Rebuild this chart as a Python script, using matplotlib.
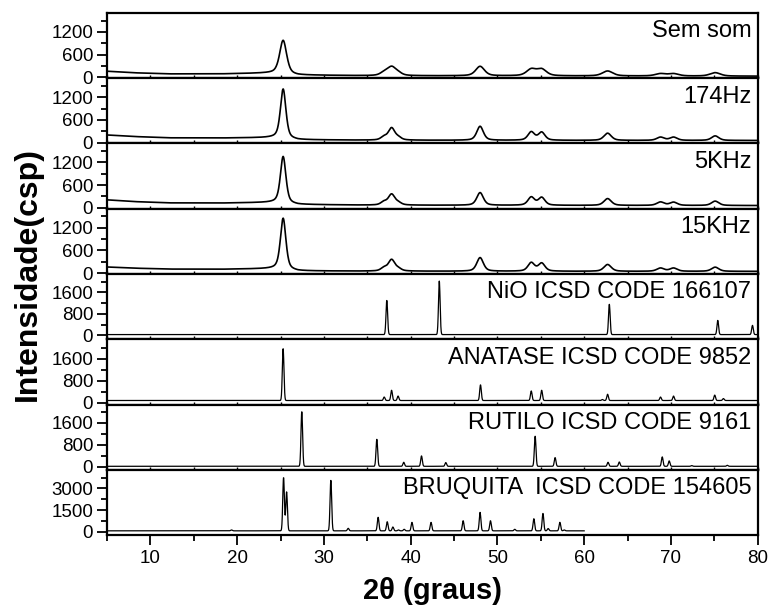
import matplotlib
matplotlib.use("Agg")
import matplotlib.pyplot as plt
import numpy as np
from matplotlib.ticker import MultipleLocator

plt.rcParams['font.family'] = ['Liberation Sans', 'DejaVu Sans']

# ---- data ----
# experimental patterns: background anchors (2theta, counts) and peak list
bg_x = [5, 8, 12, 18, 23, 24.5, 27, 35, 50, 65, 80]
bg_semsom = [160, 120, 90, 90, 110, 115, 60, 42, 38, 35, 30]
bg_174 = [200, 160, 125, 120, 130, 135, 75, 62, 58, 56, 55]
bg_5k = [210, 165, 130, 125, 140, 145, 88, 70, 65, 62, 60]
bg_15k = [160, 130, 105, 100, 115, 120, 58, 50, 47, 45, 45]

exp_pos = [25.3, 36.9, 37.8, 38.6, 48.0, 53.9, 55.1, 62.7, 68.8, 70.3, 75.1]
semsom_h = [880, 70, 230, 50, 250, 170, 170, 130, 60, 60, 90]
hz174_h = [1300, 80, 320, 60, 370, 220, 210, 190, 85, 85, 120]
khz5_h = [1230, 80, 285, 55, 335, 215, 205, 180, 90, 85, 115]
khz15_h = [1350, 80, 300, 55, 360, 225, 210, 180, 85, 85, 110]
semsom_w = [0.95, 1.0, 1.2, 1.0, 1.2, 1.3, 1.3, 1.4, 1.4, 1.4, 1.4]
exp_w = [0.75, 0.8, 0.9, 0.8, 0.9, 0.9, 0.9, 1.0, 1.0, 1.0, 1.0]

# reference patterns (ICSD): baseline, peak positions and heights
nio_base = 25
nio_pos = [37.25, 43.3, 62.9, 75.4, 79.4]
nio_h = [1280, 2000, 1130, 530, 345]

ana_base = 85
ana_pos = [25.3, 36.95, 37.8, 38.55, 48.05, 53.9, 55.1, 62.1, 62.7, 68.8, 70.3, 75.05, 76.05]
ana_h = [1870, 125, 370, 160, 565, 345, 370, 35, 225, 125, 160, 195, 70]

rut_base = 25
rut_pos = [27.45, 36.1, 39.2, 41.25, 44.05, 54.35, 56.65, 62.75, 64.05, 69.0, 69.8, 72.4, 76.5]
rut_h = [1980, 975, 145, 375, 135, 1090, 315, 145, 155, 340, 195, 25, 35]

bro_base = 60
bro_pos = [19.35, 25.35, 25.7, 30.8, 32.8, 36.25, 37.3, 37.95, 38.6, 39.25, 40.15,
           42.35, 46.05, 48.0, 49.2, 52.0, 54.2, 55.25, 55.85, 57.2, 57.7]
bro_h = [60, 3700, 2700, 3500, 175, 940, 630, 265, 60, 105, 590,
         590, 700, 1280, 700, 105, 840, 1210, 160, 590, 60]

labels = ["Sem som", "174Hz", "5KHz", "15KHz", "NiO ICSD CODE 166107",
          "ANATASE ICSD CODE 9852", "RUTILO ICSD CODE 9161",
          "BRUQUITA  ICSD CODE 154605"]
ylims = [(-25, 1700), (-25, 1700), (-25, 1700), (-25, 1700),
         (-150, 2290), (-60, 2300), (-100, 2260), (-230, 4300)]
ymajor = [600, 600, 600, 600, 800, 800, 800, 1500]
ymax_tick = [1200, 1200, 1200, 1200, 1600, 1600, 1600, 3000]


def exp_curve(x, bg, pos, h, w):
    y = np.interp(x, bg_x, bg)
    for p, a, fw in zip(pos, h, w):
        g = fw / 2
        lor = 1 / (1 + ((x - p) / g) ** 2)
        gau = np.exp(-np.log(2) * ((x - p) / g) ** 2)
        y = y + a * (0.5 * lor + 0.5 * gau)
    return y


def ref_curve(x, base, pos, h, fw=0.22):
    y = np.full_like(x, float(base))
    s = fw / 2.355
    for p, a in zip(pos, h):
        y = y + a * np.exp(-0.5 * ((x - p) / s) ** 2)
    return y


x = np.arange(5, 80.001, 0.02)
xb = np.arange(5, 60.001, 0.02)
curves = [
    (x, exp_curve(x, bg_semsom, exp_pos, semsom_h, semsom_w)),
    (x, exp_curve(x, bg_174, exp_pos, hz174_h, exp_w)),
    (x, exp_curve(x, bg_5k, exp_pos, khz5_h, exp_w)),
    (x, exp_curve(x, bg_15k, exp_pos, khz15_h, exp_w)),
    (x, ref_curve(x, nio_base, nio_pos, nio_h)),
    (x, ref_curve(x, ana_base, ana_pos, ana_h)),
    (x, ref_curve(x, rut_base, rut_pos, rut_h)),
    (xb, ref_curve(xb, bro_base, bro_pos, bro_h)),
]

fig = plt.figure(figsize=(7.7, 6.07), dpi=100)
gs = fig.add_gridspec(8, 1, left=0.139, right=0.984, top=0.9786, bottom=0.1186, hspace=0)
axes = [fig.add_subplot(gs[i]) for i in range(8)]

for i, ax in enumerate(axes):
    cx, cy = curves[i]
    lw = 1.2 if i < 4 else 0.9
    ax.plot(cx, cy, color='black', lw=lw)
    ax.set_xlim(5, 80)
    ax.set_ylim(*ylims[i])
    ax.set_yticks(np.arange(0, ymax_tick[i] + 1, ymajor[i]))
    ax.yaxis.set_minor_locator(MultipleLocator(ymajor[i] / 2))
    ax.xaxis.set_major_locator(MultipleLocator(10))
    ax.xaxis.set_minor_locator(MultipleLocator(5))
    for sp in ax.spines.values():
        sp.set_linewidth(1.6)
    ax.tick_params(axis='y', which='major', direction='out', length=7, width=1.3,
                   labelsize=13.5, pad=3)
    ax.tick_params(axis='y', which='minor', direction='out', length=4, width=1.3)
    if i < 7:
        ax.tick_params(axis='x', which='both', direction='in', length=2.5, width=1,
                       labelbottom=False)
    else:
        ax.tick_params(axis='x', which='major', direction='out', length=7, width=1.3,
                       labelsize=13.5, pad=4)
        ax.tick_params(axis='x', which='minor', direction='out', length=4.5, width=1.3)
    ax.text(0.99, 0.72, labels[i], transform=ax.transAxes, ha='right', va='center',
            fontsize=17)

fig.text(0.036, 0.5486, "Intensidade(csp)", rotation=90, ha='center', va='center',
         fontsize=23, fontweight='bold')
fig.text(0.5617, 0.027, "2\u03b8 (graus)", ha='center', va='center',
         fontsize=21, fontweight='bold')

fig.savefig("out.png", dpi=100)
